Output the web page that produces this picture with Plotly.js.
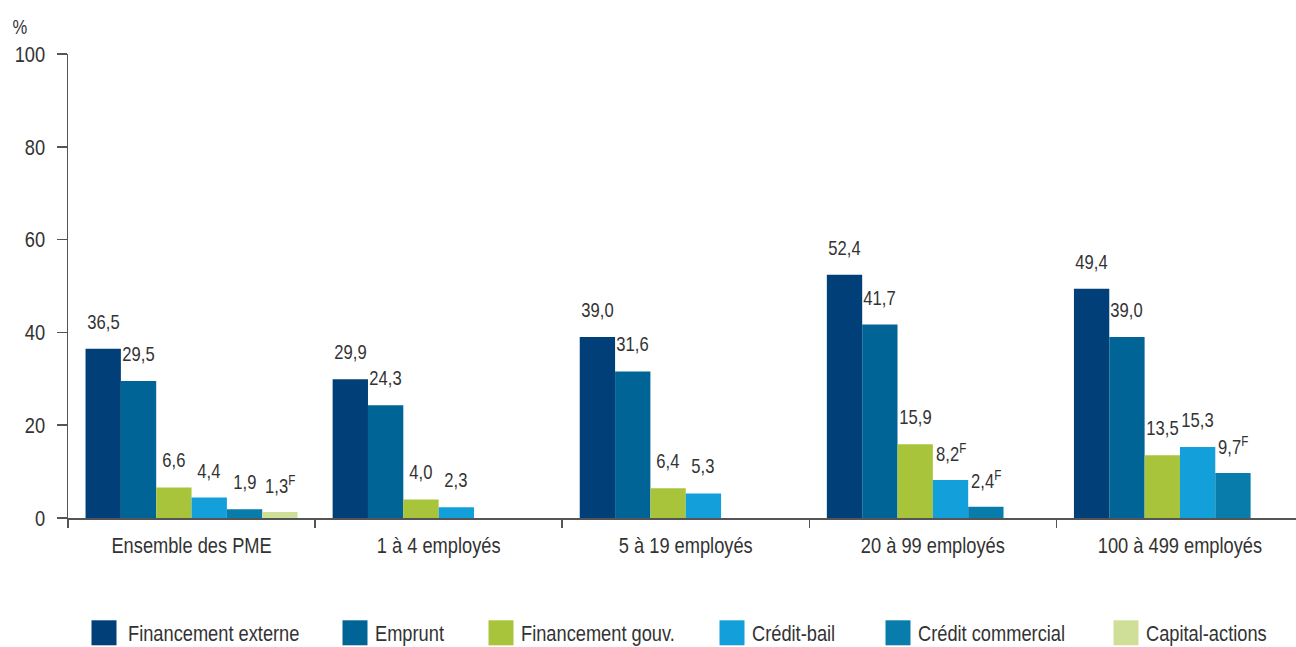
<!DOCTYPE html>
<html>
<head>
<meta charset="utf-8">
<script src="https://cdn.plot.ly/plotly-3.0.1.min.js"></script>
<style>
  html, body { margin: 0; padding: 0; background: #ffffff; }
  #chart { width: 1296px; height: 647px; }
</style>
</head>
<body>
<div id="chart"></div>
<script>
// ---- Data ----
const categories = ['Ensemble des PME', '1 à 4 employés', '5 à 19 employés', '20 à 99 employés', '100 à 499 employés'];
const seriesNames = ['Financement externe', 'Emprunt', 'Financement gouv.', 'Crédit-bail', 'Crédit commercial', 'Capital-actions'];
const financementExterne = [36.5, 29.9, 39.0, 52.4, 49.4];
const emprunt            = [29.5, 24.3, 31.6, 41.7, 39.0];
const financementGouv    = [6.6, 4.0, 6.4, 15.9, 13.5];
const creditBail         = [4.4, 2.3, 5.3, 8.2, 15.3];
const creditCommercial   = [1.9, null, null, 2.4, 9.7];
const capitalActions     = [1.3, null, null, null, null];
// "F" = à utiliser avec prudence
const flagExterne    = [false, false, false, false, false];
const flagEmprunt    = [false, false, false, false, false];
const flagGouv       = [false, false, false, false, false];
const flagBail       = [false, false, false, true, false];
const flagCommercial = [false, false, false, true, true];
const flagCapital    = [true, false, false, false, false];
const yTicks = [0, 20, 40, 60, 80, 100];

// ---- Styles ----
const colors = ['#003F78', '#006496', '#A8C43A', '#139FD9', '#087DAB', '#D0DF97'];
const FONT = '"Liberation Sans", Arial, sans-serif';
const NARROW = 0.83;   // horizontal condensing of text (narrow face)
const TXT = '#333333';
const AXIS = '#555555';
const BARGAP = 0.142;

const values = [financementExterne, emprunt, financementGouv, creditBail, creditCommercial, capitalActions];
const flags = [flagExterne, flagEmprunt, flagGouv, flagBail, flagCommercial, flagCapital];

// legend positions (left of each legend box, px)
const legendLeft = [84, 335, 481, 712, 878, 1106];
const PLOT_L = 68, PLOT_R = 1296, PLOT_T = 54, PLOT_B = 518;
const plotW = PLOT_R - PLOT_L, plotH = PLOT_B - PLOT_T;

const traces = values.map((v, i) => ({
  type: 'bar',
  name: seriesNames[i],
  x: categories,
  y: v,
  marker: { color: colors[i], line: { width: 0 } },
  hoverinfo: 'x+y+name',
  legend: i === 0 ? 'legend' : 'legend' + (i + 1)
}));

// value labels above the bars
const nSeries = values.length;
const groupW = 1 - BARGAP;
const barW = groupW / nSeries;
const fmt = (v) => v.toFixed(1).replace('.', ',');
const annotations = [];
values.forEach((arr, i) => {
  arr.forEach((v, j) => {
    if (v === null || v === undefined) return;
    annotations.push({
      x: j - groupW / 2 + barW * (i + 0.5),
      y: v,
      xref: 'x', yref: 'y',
      text: fmt(v) + (flags[i][j] ? '<sup>F</sup>' : ''),
      showarrow: false,
      xanchor: 'center', yanchor: 'middle',
      yshift: 27,
      font: { family: FONT, size: 20, color: TXT }
    });
  });
});
annotations.push({
  text: '%', showarrow: false,
  xref: 'paper', yref: 'paper', x: 0, y: 1,
  xanchor: 'center', yanchor: 'middle',
  xshift: -(PLOT_L - 20), yshift: 27,
  font: { family: FONT, size: 20, color: TXT }
});

const layout = {
  width: 1296, height: 647,
  margin: { l: PLOT_L, r: 1296 - PLOT_R, t: PLOT_T, b: 647 - PLOT_B, pad: 0, autoexpand: false },
  paper_bgcolor: '#ffffff', plot_bgcolor: '#ffffff',
  font: { family: FONT, size: 22, color: TXT },
  barmode: 'group', bargap: BARGAP, bargroupgap: 0,
  separators: ', ',
  showlegend: true,
  xaxis: {
    type: 'category',
    range: [-0.5, -0.5 + plotW / 247.1],
    showline: true, linecolor: AXIS, linewidth: 1.5,
    ticks: 'outside', tickson: 'boundaries', ticklen: 8, tickcolor: AXIS, tickwidth: 1.5,
    showgrid: false, zeroline: false,
    tickfont: { family: FONT, size: 22, color: TXT },
    ticklabelstandoff: 7
  },
  yaxis: {
    range: [0, 100],
    tickvals: yTicks,
    ticktext: yTicks.map(String),
    showline: true, linecolor: AXIS, linewidth: 1.5,
    ticks: 'outside', ticklen: 10, tickcolor: AXIS, tickwidth: 1.5,
    showgrid: false, zeroline: false,
    tickfont: { family: FONT, size: 22, color: TXT },
    ticklabelstandoff: 7
  },
  annotations: annotations
};

seriesNames.forEach((n, i) => {
  const key = i === 0 ? 'legend' : 'legend' + (i + 1);
  layout[key] = {
    orientation: 'h',
    x: (legendLeft[i] - PLOT_L) / plotW,
    xanchor: 'left',
    y: (PLOT_B - 633) / plotH,
    yanchor: 'middle',
    bgcolor: 'rgba(0,0,0,0)',
    borderwidth: 0,
    itemwidth: 30,
    font: { family: FONT, size: 22, color: TXT }
  };
});

Plotly.newPlot('chart', traces, layout, { displayModeBar: false, staticPlot: true }).then(() => {
  // larger legend swatches
  document.querySelectorAll('#chart .legendpoints path').forEach(p => {
    p.setAttribute('d', 'M12.5,12.5H-12.5V-12.5H12.5Z');
  });
  // condensed text: scale horizontally about each text's anchor point
  document.querySelectorAll('#chart svg text').forEach(t => {
    const x = parseFloat(t.getAttribute('x')) || 0;
    const extra = t.classList.contains('legendtext') ? 4 : 0;
    const tr = t.getAttribute('transform') || '';
    t.setAttribute('transform', (tr + ' translate(' + (x + extra) + ',0) scale(' + NARROW + ',1) translate(' + (-x) + ',0)').trim());
  });
});
</script>
</body>
</html>
